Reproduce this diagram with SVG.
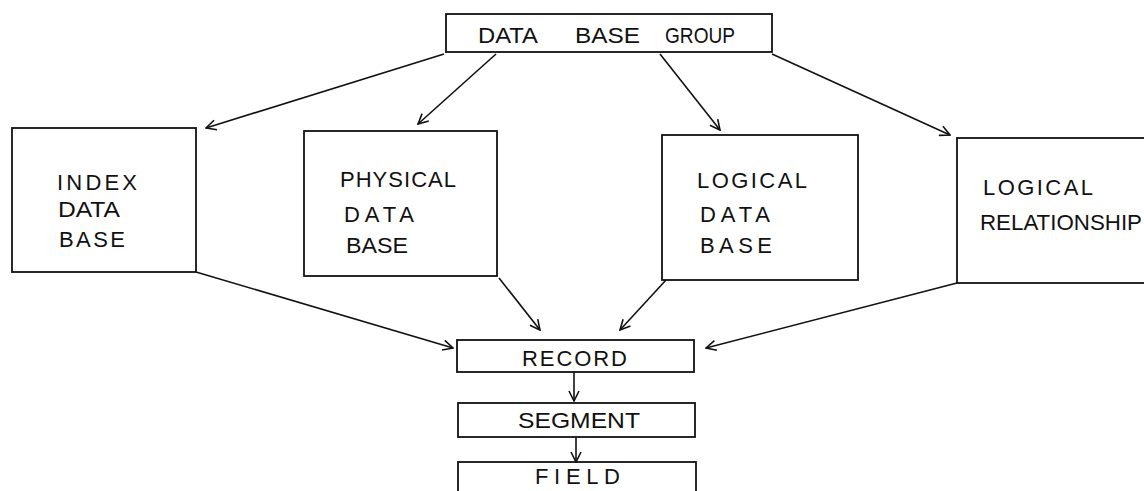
<svg xmlns="http://www.w3.org/2000/svg" width="1144" height="491" viewBox="0 0 1144 491">
<style>
.box{fill:none;stroke:#111;stroke-width:1.8}
.t{font-family:"Liberation Sans",Arial,sans-serif;font-size:22px;fill:#111}
.c{fill:none;stroke:#111;stroke-width:1.6;marker-end:url(#ah)}
</style>
<defs>
<marker id="ah" viewBox="0 0 12 12" refX="11" refY="6" markerWidth="12" markerHeight="12" markerUnits="userSpaceOnUse" orient="auto">
<path d="M1,1 L11,6 L1,11" fill="none" stroke="#111" stroke-width="1.6"/>
</marker>
</defs>
<rect width="1144" height="491" fill="#fff"/>
<g id="connectors">
<line class="c" x1="444" y1="54" x2="206" y2="128"/>
<line class="c" x1="496" y1="54" x2="418" y2="124"/>
<line class="c" x1="660" y1="54" x2="720" y2="130"/>
<line class="c" x1="772" y1="54" x2="950" y2="135"/>
<line class="c" x1="196" y1="272" x2="453" y2="348"/>
<line class="c" x1="499" y1="278" x2="540" y2="330"/>
<line class="c" x1="666" y1="280" x2="620" y2="330"/>
<line class="c" x1="957" y1="283" x2="706" y2="348"/>
<line class="c" x1="574" y1="372" x2="574" y2="401"/>
<line class="c" x1="576" y1="437" x2="576" y2="462"/>
</g>
<g id="group">
<rect class="box" x="446" y="14" width="326" height="38"/>
<text class="t" x="478" y="43" textLength="60" lengthAdjust="spacingAndGlyphs">DATA</text>
<text class="t" x="575" y="43" textLength="65" lengthAdjust="spacingAndGlyphs">BASE</text>
<text class="t" x="665" y="43" textLength="70" lengthAdjust="spacingAndGlyphs">GROUP</text>
</g>
<g id="index">
<rect class="box" x="12" y="128" width="184" height="144"/>
<text class="t" x="57" y="190" textLength="80" lengthAdjust="spacing">INDEX</text>
<text class="t" x="58" y="217" textLength="62" lengthAdjust="spacingAndGlyphs">DATA</text>
<text class="t" x="59" y="247" textLength="66" lengthAdjust="spacing">BASE</text>
</g>
<g id="physical">
<rect class="box" x="304" y="131" width="193" height="145"/>
<text class="t" x="340" y="187" textLength="116" lengthAdjust="spacing">PHYSICAL</text>
<text class="t" x="344" y="222" textLength="70" lengthAdjust="spacing">DATA</text>
<text class="t" x="346" y="253" textLength="62" lengthAdjust="spacingAndGlyphs">BASE</text>
</g>
<g id="logicaldb">
<rect class="box" x="662" y="135" width="196" height="145"/>
<text class="t" x="697" y="188" textLength="110" lengthAdjust="spacing">LOGICAL</text>
<text class="t" x="700" y="222" textLength="70" lengthAdjust="spacing">DATA</text>
<text class="t" x="700" y="253" textLength="72" lengthAdjust="spacing">BASE</text>
</g>
<g id="logicalrel">
<rect class="box" x="957" y="138" width="200" height="145"/>
<text class="t" x="983" y="195" textLength="110" lengthAdjust="spacing">LOGICAL</text>
<text class="t" x="980" y="230" textLength="162" lengthAdjust="spacingAndGlyphs">RELATIONSHIP</text>
</g>
<g id="record">
<rect class="box" x="457" y="340" width="237" height="32"/>
<text class="t" x="522" y="366" textLength="105" lengthAdjust="spacing">RECORD</text>
</g>
<g id="segment">
<rect class="box" x="458" y="403" width="237" height="34"/>
<text class="t" x="518" y="428" textLength="122" lengthAdjust="spacingAndGlyphs">SEGMENT</text>
</g>
<g id="field">
<rect class="box" x="458" y="462" width="238" height="40"/>
<text class="t" x="535" y="484" textLength="85" lengthAdjust="spacing">FIELD</text>
</g>
</svg>
